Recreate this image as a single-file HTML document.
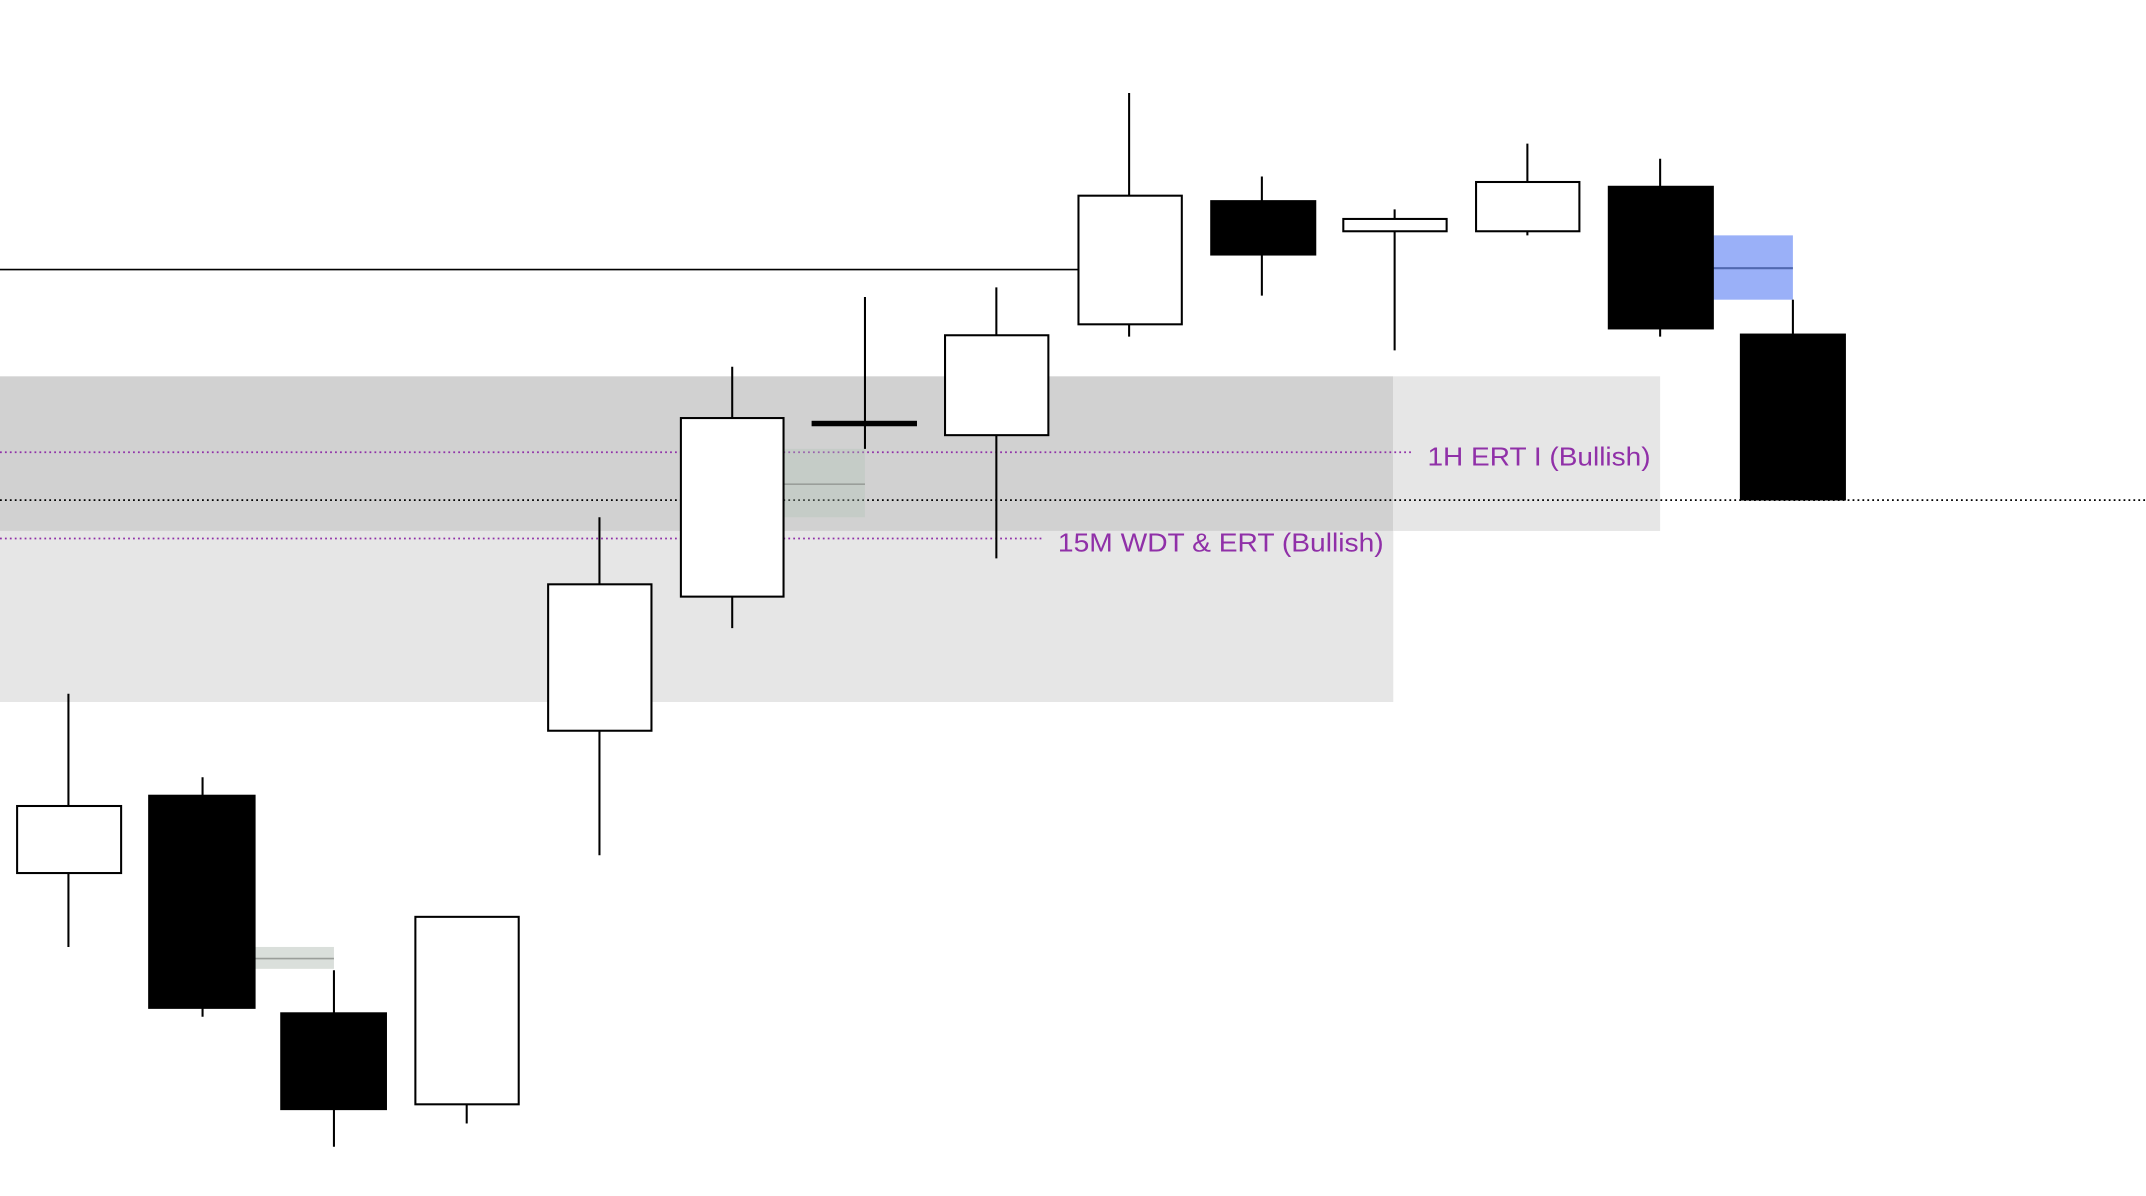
<!DOCTYPE html>
<html><head><meta charset="utf-8"><style>
html,body{margin:0;padding:0;background:#fff;width:2146px;height:1196px;overflow:hidden}
svg{display:block}
</style></head><body>
<svg width="2146" height="1196" viewBox="0 0 1568 874" preserveAspectRatio="none" xmlns="http://www.w3.org/2000/svg">
<rect x="0" y="275" width="1018" height="113" fill="#d1d1d1"/>
<rect x="1018" y="275" width="195" height="113" fill="#e6e6e6"/>
<rect x="0" y="388" width="1018" height="125" fill="#e6e6e6"/>
<line x1="0" y1="197" x2="788" y2="197" stroke="#000" stroke-width="1.2"/>
<line x1="0" y1="330.5" x2="1033" y2="330.5" stroke="#9030a8" stroke-width="1.3" stroke-dasharray="1.3 2.3"/>
<line x1="0" y1="393.5" x2="763" y2="393.5" stroke="#9030a8" stroke-width="1.3" stroke-dasharray="1.3 2.3"/>
<line x1="0" y1="365.5" x2="1568" y2="365.5" stroke="#000" stroke-width="1.3" stroke-dasharray="1.3 2.3"/>
<text x="1043" y="340" font-family="Liberation Sans, sans-serif" font-size="19" fill="#9030a8" textLength="163" lengthAdjust="spacingAndGlyphs">1H ERT I (Bullish)</text>
<text x="773" y="403" font-family="Liberation Sans, sans-serif" font-size="19" fill="#9030a8" textLength="238" lengthAdjust="spacingAndGlyphs">15M WDT &amp; ERT (Bullish)</text>
<rect x="573" y="328" width="59" height="50" fill="rgba(175,195,180,0.35)"/>
<line x1="573" y1="353.8" x2="632" y2="353.8" stroke="#9a9e9a" stroke-width="1.2"/>
<rect x="186" y="692" width="58" height="16" fill="#dadfdb"/>
<line x1="186" y1="700.5" x2="244" y2="700.5" stroke="#9a9e9a" stroke-width="1.2"/>
<rect x="1252" y="172" width="58" height="47" fill="#9ab0f8"/>
<line x1="1252" y1="196" x2="1310" y2="196" stroke="#5068b0" stroke-width="1.5"/>
<g stroke="#000" stroke-width="1.5">
<line x1="50" y1="507" x2="50" y2="692"/><rect x="12.5" y="589" width="76" height="49" fill="#fff"/>
<line x1="148" y1="568" x2="148" y2="743"/><rect x="109" y="581.5" width="77" height="155" fill="#000"/>
<line x1="244" y1="709" x2="244" y2="838"/><rect x="205.5" y="740.5" width="76.5" height="70" fill="#000"/>
<line x1="341" y1="807" x2="341" y2="821"/><rect x="303.5" y="670" width="75.5" height="137" fill="#fff"/>
<line x1="438" y1="378" x2="438" y2="625"/><rect x="400.5" y="427" width="75.5" height="107" fill="#fff"/>
<line x1="535" y1="268" x2="535" y2="459"/><rect x="497.5" y="305.5" width="75" height="130.5" fill="#fff"/>
<line x1="632" y1="217" x2="632" y2="328"/>
<line x1="728" y1="210" x2="728" y2="408"/><rect x="690.5" y="245" width="75.5" height="73" fill="#fff"/>
<line x1="825" y1="68" x2="825" y2="246"/><rect x="788" y="143" width="75.5" height="94" fill="#fff"/>
<line x1="922" y1="129" x2="922" y2="216"/><rect x="885" y="147" width="76" height="39" fill="#000"/>
<line x1="1019" y1="153" x2="1019" y2="256"/><rect x="981.5" y="160" width="75.5" height="9" fill="#fff"/>
<line x1="1116" y1="105" x2="1116" y2="172"/><rect x="1078.5" y="133" width="75.5" height="36" fill="#fff"/>
<line x1="1213" y1="116" x2="1213" y2="246"/><rect x="1175.5" y="136.5" width="76" height="103.5" fill="#000"/>
<line x1="1310" y1="219" x2="1310" y2="244"/><rect x="1272" y="244.5" width="76" height="120.5" fill="#000"/>
</g>
<rect x="593" y="307.5" width="77" height="4" fill="#000"/>
</svg>
</body></html>
